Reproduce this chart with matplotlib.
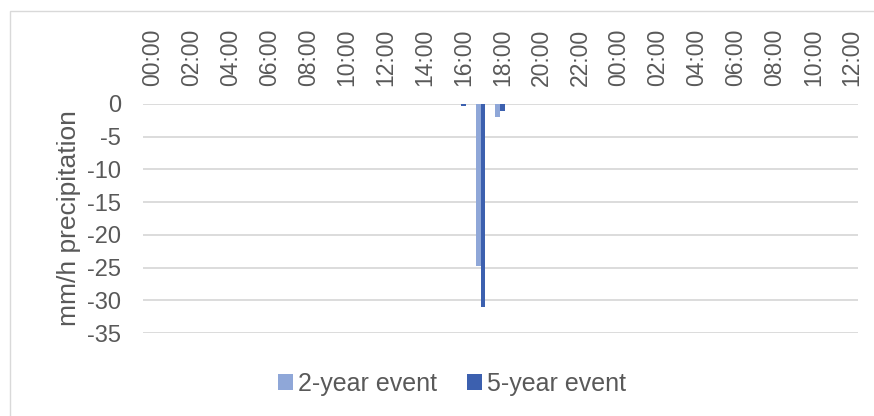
import matplotlib
matplotlib.use("Agg")
import matplotlib.pyplot as plt
from matplotlib.patches import Rectangle

plt.rcParams['font.family'] = ['Liberation Sans', 'DejaVu Sans']

# Time labels along the top axis (every 2 hours over 36 hours)
tick_hours = list(range(0, 37, 2))
tick_labels = ["00:00", "02:00", "04:00", "06:00", "08:00", "10:00", "12:00",
               "14:00", "16:00", "18:00", "20:00", "22:00", "00:00", "02:00",
               "04:00", "06:00", "08:00", "10:00", "12:00"]

# Rainfall intensity (mm/h, plotted downward) at hour offsets
two_year_hours = [16.75, 17.75]
two_year_values = [-24.7, -2.0]
five_year_hours = [16.0, 17.0, 18.0]
five_year_values = [-0.3, -31.0, -1.0]

y_ticks = [0, -5, -10, -15, -20, -25, -30, -35]

c2 = "#8FA7D8"
c5 = "#3C60AF"
text_c = "#595959"
grid_c = "#D9D9D9"

fig = plt.figure(figsize=(8.74, 4.16), dpi=100)
fig.patches.append(Rectangle((10 / 874, -0.1), 1.2, 1 - 11 / 416 + 0.1,
                             transform=fig.transFigure, fill=False,
                             edgecolor="#D9D9D9", linewidth=1.0))

ax = fig.add_axes([143 / 874, 1 - 333 / 416, (858 - 143) / 874, (333 - 104) / 416])

w = 0.25
ax.bar(two_year_hours, two_year_values, width=w, color=c2, label="2-year event", zorder=3)
ax.bar(five_year_hours, five_year_values, width=w, color=c5, label="5-year event", zorder=3)

ax.set_xlim(-0.5, 36.3)
ax.set_ylim(-35, 0)
ax.set_yticks(y_ticks)
ax.set_yticklabels([str(v) for v in y_ticks])
ax.yaxis.grid(True, color=grid_c, linewidth=1.3, zorder=0)
ax.set_axisbelow(True)

ax.xaxis.tick_top()
ax.set_xticks(tick_hours)
ax.set_xticklabels(tick_labels, rotation=90, fontsize=16.5, color=text_c)
ax.tick_params(axis="x", length=0, pad=13)
ax.tick_params(axis="y", length=0, pad=16, labelsize=17, labelcolor=text_c)

for s in ax.spines.values():
    s.set_visible(False)

ax.set_ylabel("mm/h precipitation", fontsize=19, color=text_c, labelpad=4)

leg = fig.legend(loc="center", bbox_to_anchor=(0.517, 1 - 384 / 416), ncol=2,
                 frameon=False, fontsize=18, handlelength=0.6, handleheight=0.6,
                 handletextpad=0.2, columnspacing=1.2)
for t in leg.get_texts():
    t.set_color(text_c)

fig.savefig("out.png", dpi=100)
